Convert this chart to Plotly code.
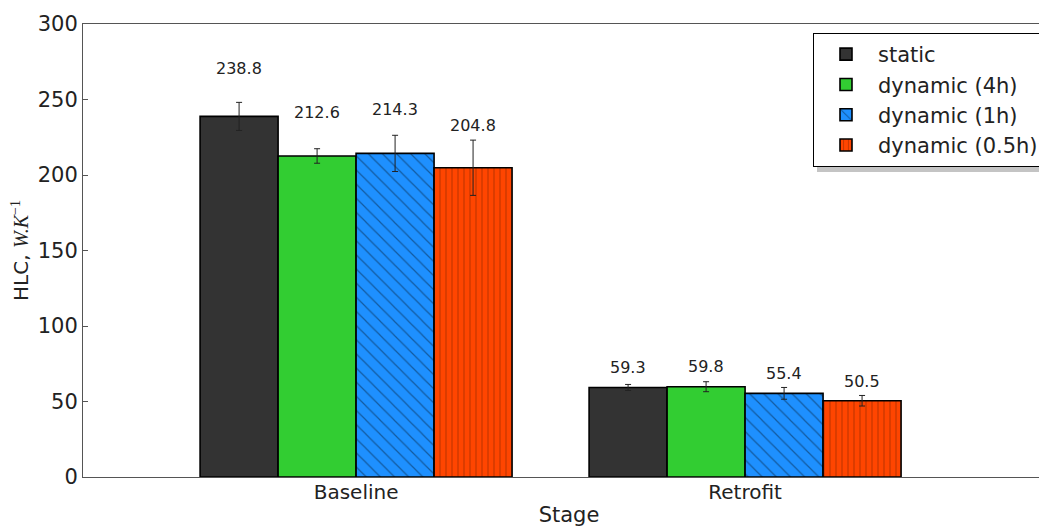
import plotly.graph_objects as go

stages = ["Baseline", "Retrofit"]
series_names = ["static", "dynamic (4h)", "dynamic (1h)", "dynamic (0.5h)"]
values = {
    "static": [238.8, 59.3],
    "dynamic (4h)": [212.6, 59.8],
    "dynamic (1h)": [214.3, 55.4],
    "dynamic (0.5h)": [204.8, 50.5],
}
errors = {
    "static": [9.3, 2.0],
    "dynamic (4h)": [4.8, 3.3],
    "dynamic (1h)": [12.0, 3.9],
    "dynamic (0.5h)": [18.3, 3.5],
}
colors = ["#333333", "#32CD32", "#1E90FF", "#FF4500"]
patterns = ["", "", "\\", "|"]
pattern_sizes = [8, 8, 10, 6]

FONT = "DejaVu Sans"
bargap = 0.198
xpos = list(range(len(stages)))

# plot area in screenshot px (page has 8px body offset)
PL, PT, PW, PH = 83, 24, 972, 453
PB = PT + PH

fig = go.Figure()
for j, name in enumerate(series_names):
    fig.add_trace(go.Bar(
        x=xpos, y=values[name], name=name,
        marker=dict(color=colors[j], line=dict(color="black", width=1.6),
                    pattern=dict(shape=patterns[j], fgcolor="rgba(0,0,0,0.75)",
                                 size=pattern_sizes[j], solidity=0.12)),
        error_y=dict(type="data", array=errors[name], color="#222222",
                     thickness=1, width=3),
    ))

n = len(series_names)
w = (1 - bargap) / n
for j, name in enumerate(series_names):
    for i, v in enumerate(values[name]):
        fig.add_annotation(x=i + (j - (n - 1) / 2) * w, y=1.1 * v, text=f"{v:.1f}",
                           showarrow=False, yanchor="bottom", xref="x", yref="y",
                           font=dict(family=FONT, size=16, color="#222222"))

# legend shadow
fig.add_shape(type="rect", xref="paper", yref="paper",
              x0=(817 - PL) / PW, x1=(1049 - PL) / PW,
              y0=(PB - 172) / PH, y1=(PB - 37) / PH,
              fillcolor="#c4c4c4", line=dict(width=0), layer="above")

fig.update_layout(
    width=1047, height=528,
    margin=dict(l=PL - 8, r=0, t=PT - 8, b=528 - PB + 8),
    paper_bgcolor="white", plot_bgcolor="white",
    barmode="group", bargap=bargap, bargroupgap=0,
    font=dict(family=FONT, size=21, color="#222222"),
    legend=dict(x=(813 - PL) / PW, y=(PB - 33) / PH, xanchor="left", yanchor="top",
                bgcolor="white", bordercolor="black", borderwidth=1,
                font=dict(family=FONT, size=21), tracegroupgap=2,
                itemwidth=54),
    xaxis=dict(range=[-0.702, -0.702 + PW / 389], tickvals=xpos, ticktext=stages,
               showline=True, linecolor="#555555", linewidth=1, mirror=True,
               ticks="", showgrid=False, zeroline=False, ticklabelstandoff=-3,
               tickfont=dict(family=FONT, size=20),
               title=dict(text="Stage", font=dict(family=FONT, size=21), standoff=4)),
    yaxis=dict(range=[0, 300], tickvals=[0, 50, 100, 150, 200, 250, 300],
               showline=True, linecolor="#555555", linewidth=1, mirror=False,
               ticks="inside", ticklen=5, tickcolor="#555555",
               showgrid=False, zeroline=False,
               tickfont=dict(family=FONT, size=21),
               title=dict(text="HLC, <span style='font-family:Liberation Serif'><i>W.K</i><sup>−1</sup></span>",
                          font=dict(family=FONT, size=20), standoff=8)),
)

fig.write_html("out.html")
